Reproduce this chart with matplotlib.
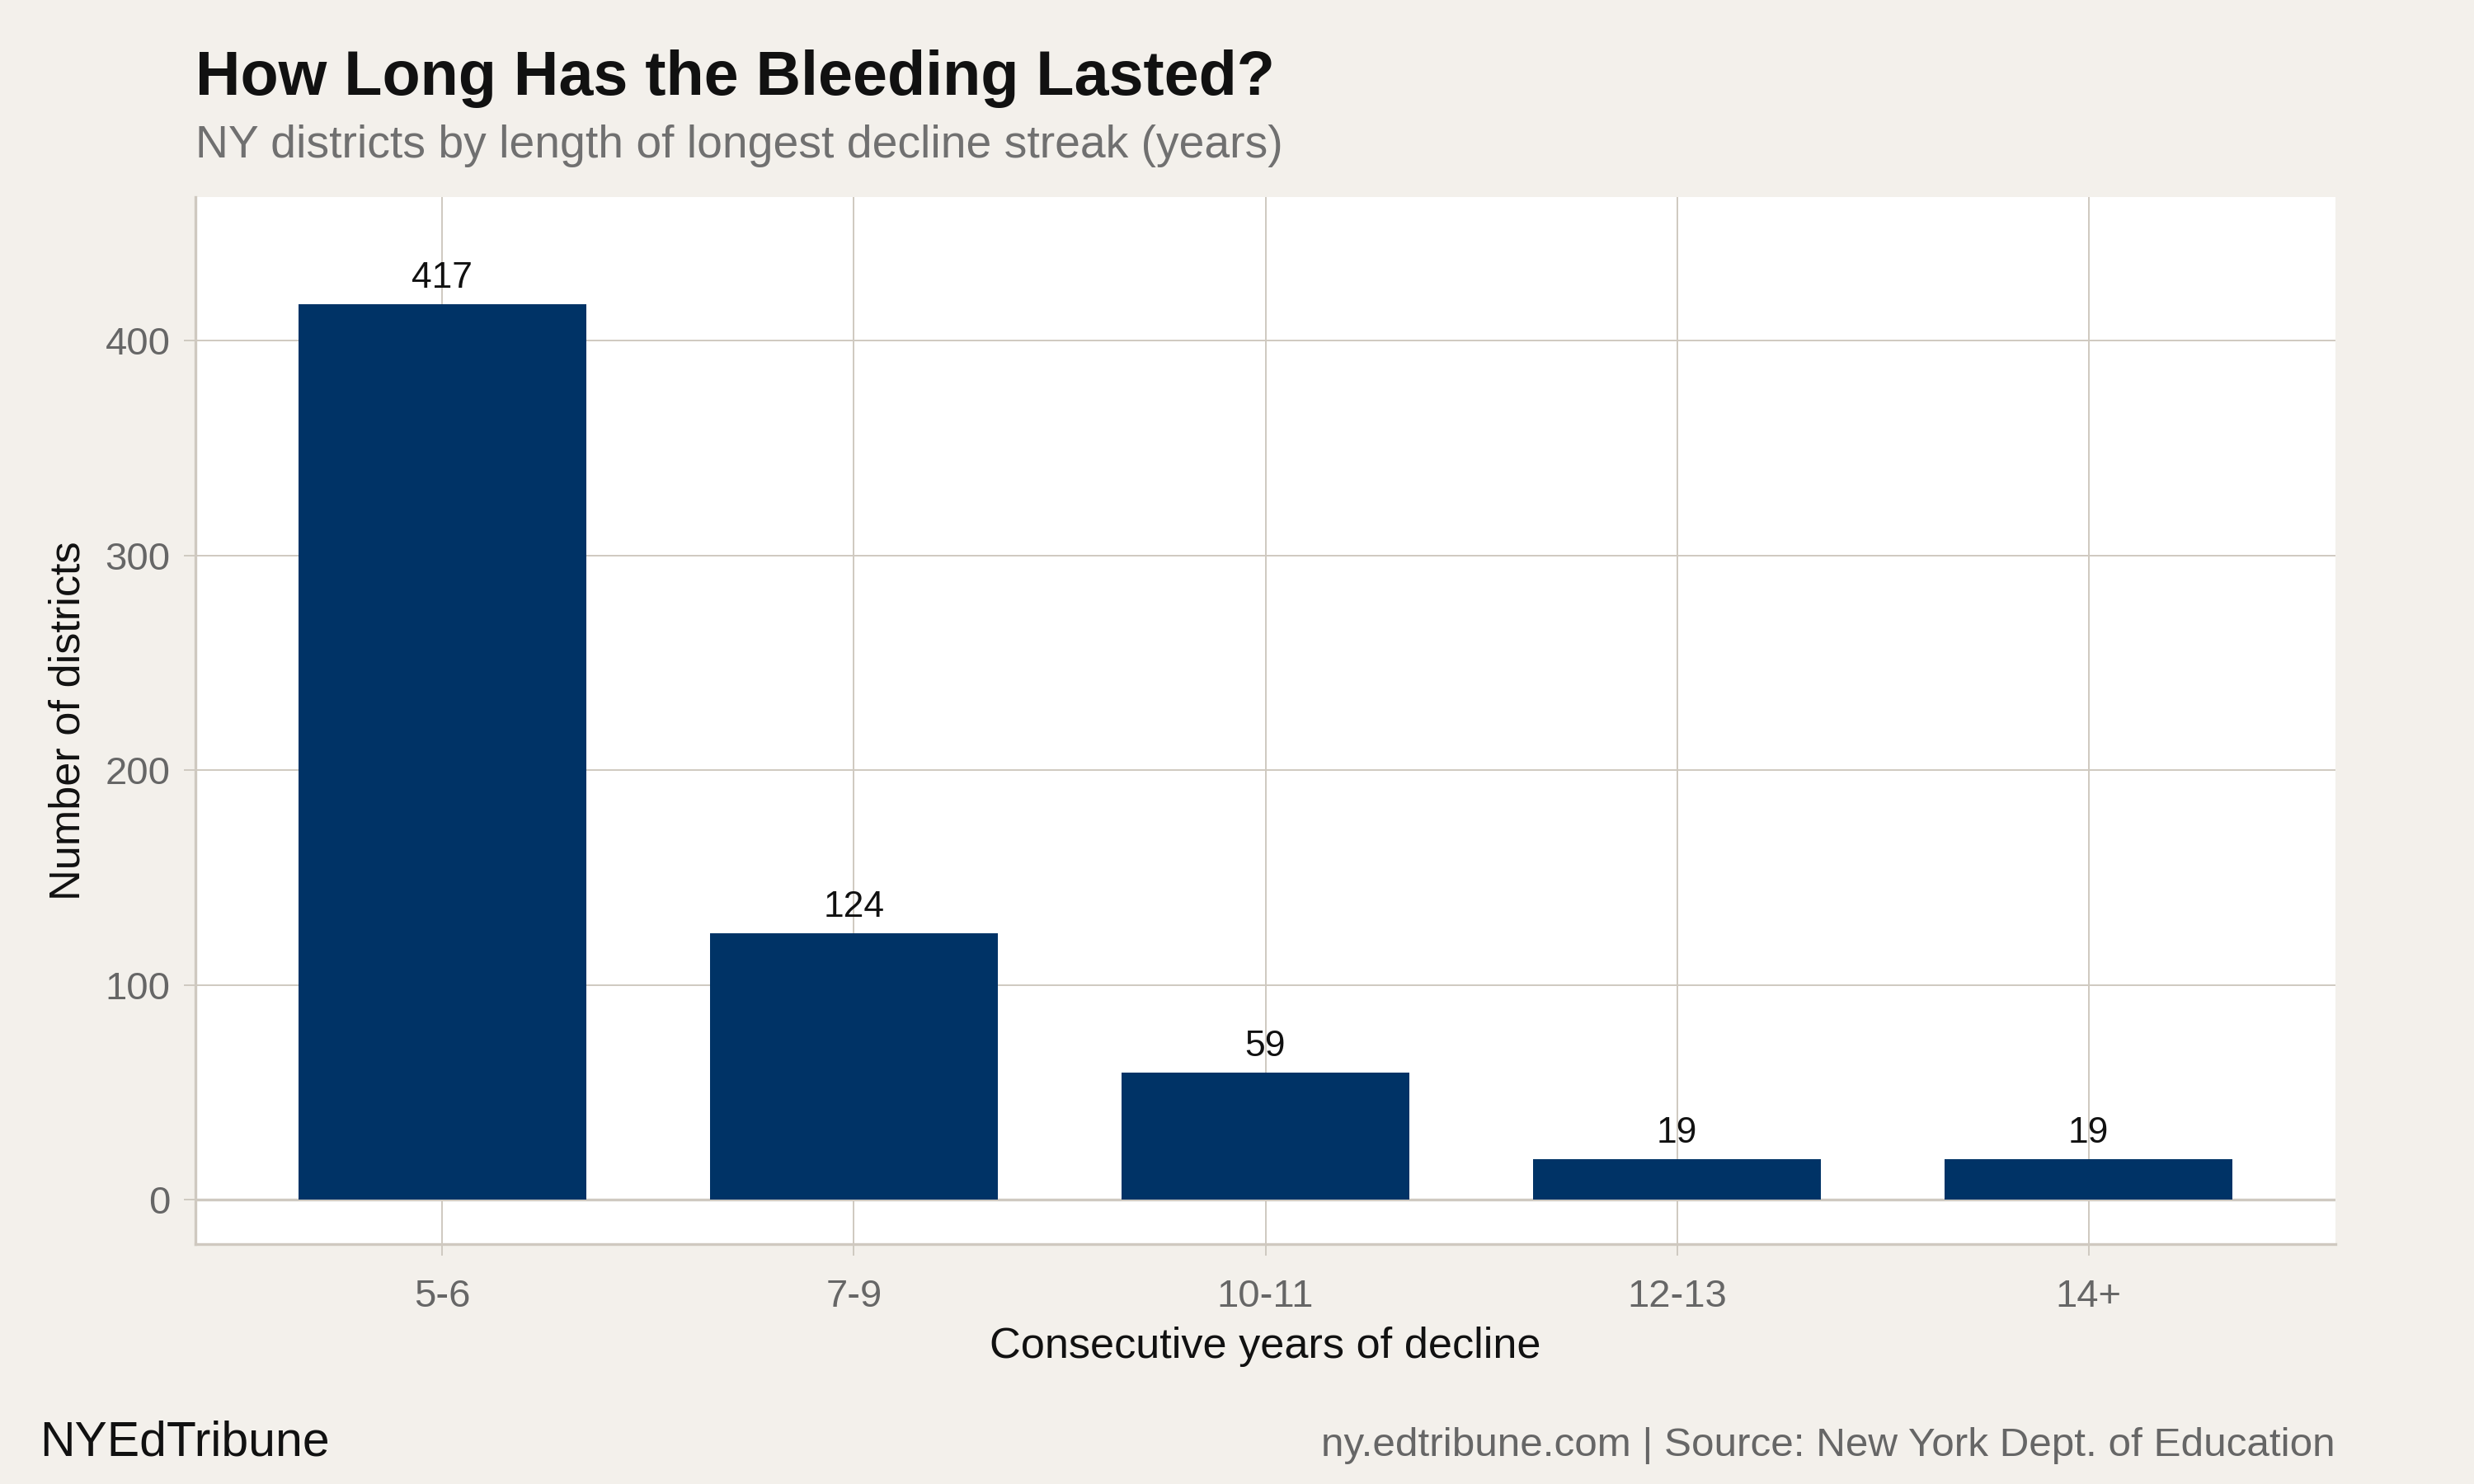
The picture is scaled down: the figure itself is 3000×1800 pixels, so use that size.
import numpy as np
import matplotlib
matplotlib.use("Agg")
import matplotlib.pyplot as plt

# data
categories = ["5-6", "7-9", "10-11", "12-13", "14+"]
districts = [417, 124, 59, 19, 19]

bg = "#F3F0EB"
grid_col = "#CFC9C0"
bar_col = "#003366"

plt.rcParams["font.family"] = ["Liberation Sans", "DejaVu Sans"]

fig = plt.figure(figsize=(15, 9), dpi=200, facecolor=bg)
ax = fig.add_axes([0.079, 0.1615, 0.865, 0.7055])
ax.set_facecolor("white")

x = np.arange(len(categories))
ax.bar(x, districts, width=0.7, color=bar_col, zorder=3)

for xi, v in zip(x, districts):
    ax.annotate(str(v), (xi, v), xytext=(0, 4), textcoords="offset points",
                ha="center", va="bottom", fontsize=16, color="#111111", zorder=4)

ax.set_xlim(-0.6, len(categories) - 0.4)
ax.set_ylim(-20.8, 466.7)
ax.set_xticks(x)
ax.set_xticklabels(categories)
ax.set_yticks([0, 100, 200, 300, 400])

ax.grid(True, color=grid_col, linewidth=0.7, zorder=0)
ax.axhline(0, color=grid_col, linewidth=1.2, zorder=2)

for side in ["top", "right"]:
    ax.spines[side].set_visible(False)
for side in ["left", "bottom"]:
    ax.spines[side].set_color(grid_col)
    ax.spines[side].set_linewidth(1.2)

ax.tick_params(axis="both", colors=grid_col, length=5, width=0.7,
               labelsize=17, labelcolor="#666666")
ax.tick_params(axis="x", pad=10)
ax.tick_params(axis="y", pad=6)

ax.set_xlabel("Consecutive years of decline", fontsize=18.8, color="#111111", labelpad=5)
ax.set_ylabel("Number of districts", fontsize=18.8, color="#111111", labelpad=7)

fig.text(0.079, 0.936, "How Long Has the Bleeding Lasted?", fontsize=27.2,
         fontweight="bold", color="#111111", ha="left", va="baseline")
fig.text(0.079, 0.894, "NY districts by length of longest decline streak (years)",
         fontsize=19.9, color="#707070", ha="left", va="baseline")
fig.text(0.016, 0.019, "NYEdTribune", fontsize=21.2, color="#111111",
         ha="left", va="baseline")
fig.text(0.944, 0.019, "ny.edtribune.com | Source: New York Dept. of Education",
         fontsize=17.8, color="#666666", ha="right", va="baseline")

fig.savefig("out.png", dpi=200, facecolor=bg)
